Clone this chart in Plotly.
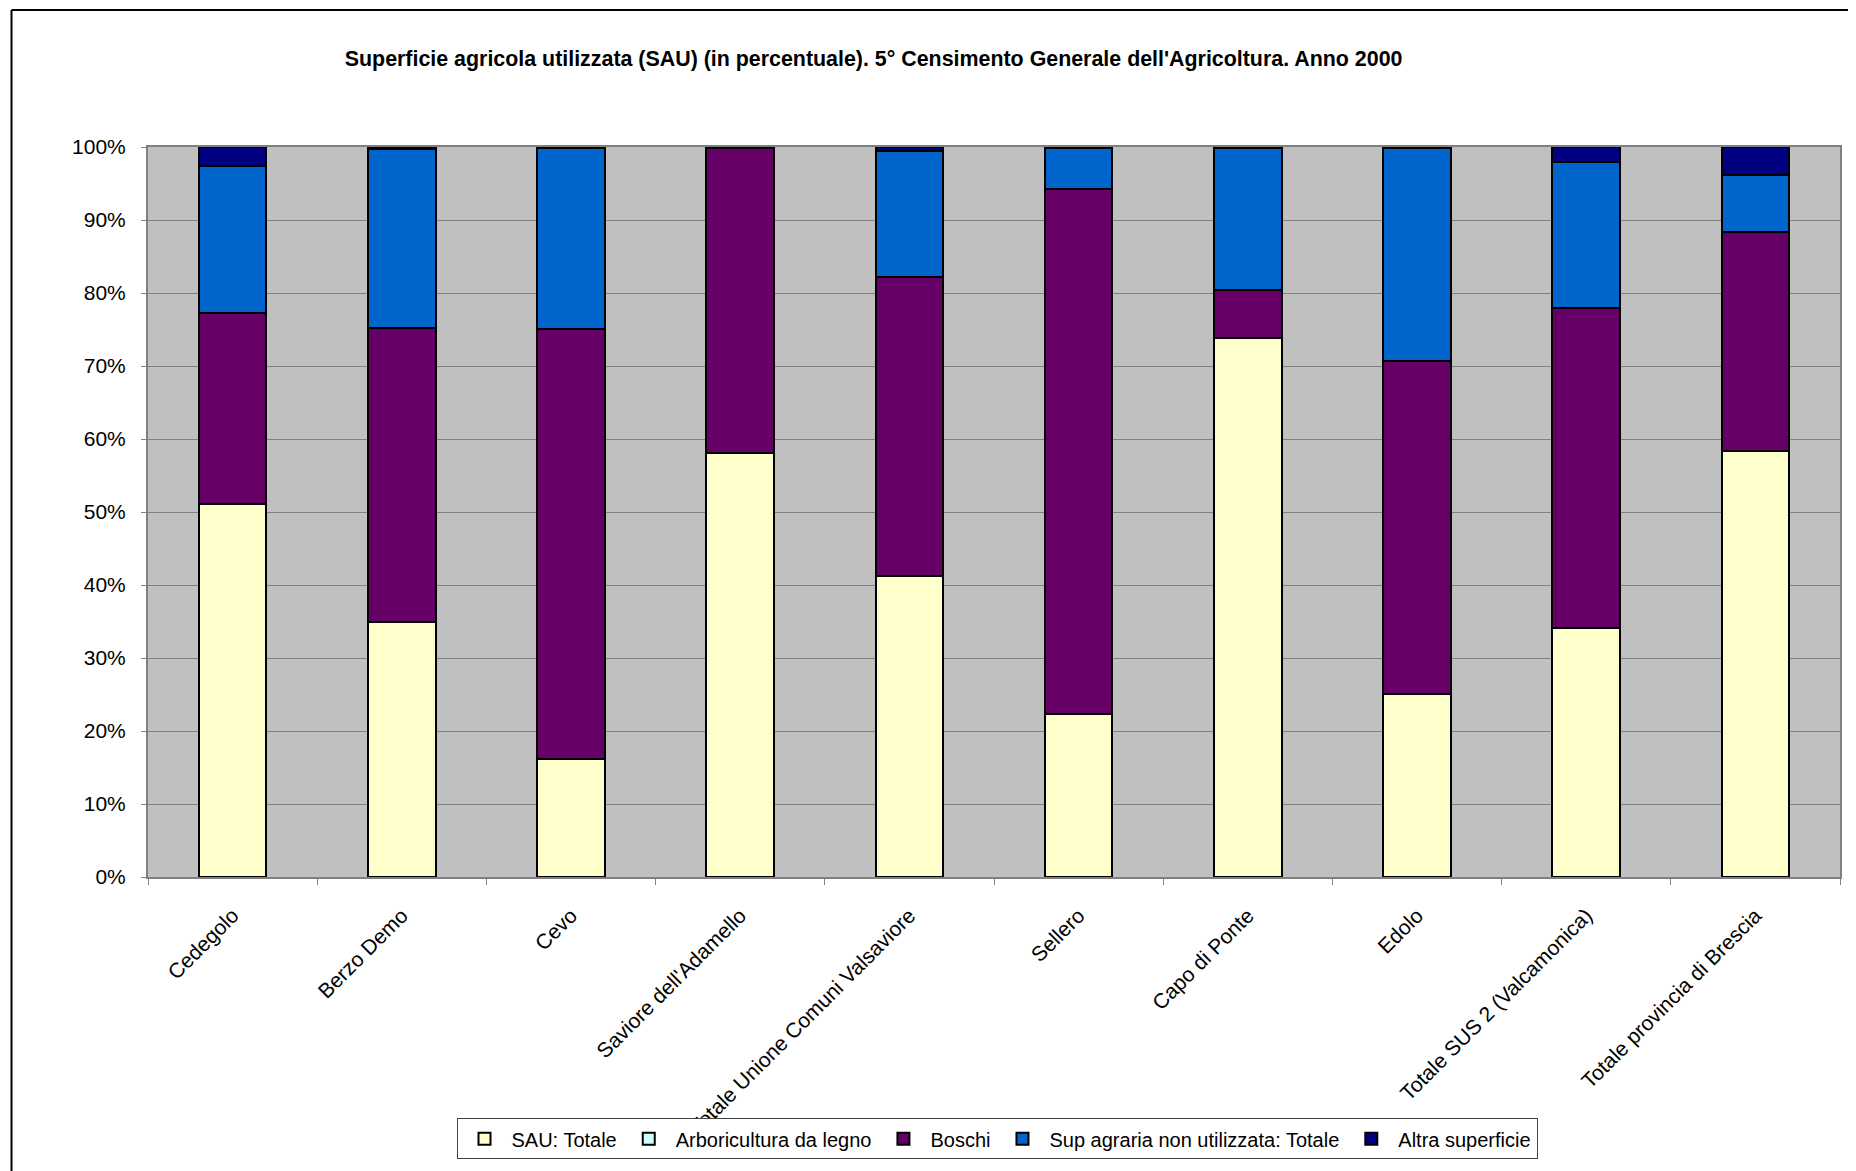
import plotly.graph_objects as go

categories = ["Cedegolo", "Berzo Demo", "Cevo", "Saviore dell'Adamello",
              "Totale Unione Comuni Valsaviore", "Sellero", "Capo di Ponte",
              "Edolo", "Totale SUS 2 (Valcamonica)", "Totale provincia di Brescia"]

sau_totale = [51.1, 35.0, 16.2, 58.1, 41.2, 22.3, 73.9, 25.1, 34.1, 58.3]
arboricoltura = [0.0, 0.0, 0.0, 0.0, 0.0, 0.0, 0.0, 0.0, 0.0, 0.1]
boschi = [26.1, 40.2, 58.9, 41.8, 41.0, 71.9, 6.5, 45.6, 43.9, 29.9]
sup_non_utilizzata = [20.2, 24.5, 24.7, 0.0, 17.2, 5.6, 19.4, 29.2, 19.9, 7.8]
altra_superficie = [2.6, 0.3, 0.2, 0.1, 0.6, 0.2, 0.2, 0.1, 2.1, 3.9]

series_names = ["SAU: Totale", "Arboricultura da legno", "Boschi",
                "Sup agraria non utilizzata: Totale", "Altra superficie"]
series_values = [sau_totale, arboricoltura, boschi, sup_non_utilizzata, altra_superficie]
series_colors = ["#FFFFCC", "#CCFFFF", "#660066", "#0066CC", "#000080"]

title_text = "Superficie agricola utilizzata (SAU) (in percentuale). 5° Censimento Generale dell'Agricoltura. Anno 2000"

FONT = "Arial, 'Liberation Sans', sans-serif"

fig = go.Figure()
for name, vals, col in zip(series_names, series_values, series_colors):
    fig.add_trace(go.Bar(
        x=categories, y=vals, name=name,
        marker=dict(color=col, line=dict(color="black", width=2)),
    ))

# page has an 8px body margin; figure coordinates below are page - 8
OFF = 8
W, H = 1856 - OFF, 1171 - OFF
L, R, T = 148 - OFF, 16, 147 - OFF
pw = W - L - R
ph = 732
B = H - T - ph

def px_x(px):
    return (px - OFF - L) / pw

def px_y(py):
    return (T + ph - (py - OFF)) / ph

fig.update_layout(
    width=W, height=H,
    margin=dict(l=L, r=R, t=T, b=B),
    barmode="stack",
    bargap=0.6,
    paper_bgcolor="white",
    plot_bgcolor="#C0C0C0",
    font=dict(family=FONT, size=21, color="black"),
    title=dict(text="<b>" + title_text + "</b>", xref="container",
               x=(873.6 - OFF) / W, xanchor="center",
               y=1 - (59 - OFF) / H, yanchor="middle",
               font=dict(size=21.4, family=FONT)),
    showlegend=True,
    legend=dict(
        orientation="h", traceorder="normal",
        x=px_x(997), xanchor="center",
        y=px_y(1121), yanchor="top",
        bgcolor="white", bordercolor="#404040", borderwidth=1,
        font=dict(size=20, family=FONT),
        itemwidth=44,
    ),
    xaxis=dict(
        type="category", tickangle=-45, tickson="boundaries",
        ticks="outside", ticklen=6, tickcolor="#808080",
        ticklabelstandoff=16,
        showline=True, linecolor="#808080", linewidth=2, mirror=True,
        showgrid=False, tickfont=dict(size=21, family=FONT),
    ),
    yaxis=dict(
        range=[0, 100], dtick=10, ticksuffix="%",
        ticks="outside", ticklen=5, tickcolor="#808080",
        ticklabelstandoff=11,
        showline=True, linecolor="#808080", linewidth=2, mirror=True,
        showgrid=True, gridcolor="#808080", gridwidth=1,
        tickfont=dict(size=21, family=FONT), zeroline=False,
    ),
    shapes=[
        dict(type="line", xref="paper", yref="paper",
             x0=px_x(11.5), x1=px_x(11.5), y0=px_y(9.5), y1=px_y(1171 + 20),
             line=dict(color="black", width=2)),
        dict(type="line", xref="paper", yref="paper",
             x0=px_x(11.5), x1=px_x(1856 + 20), y0=px_y(9.5), y1=px_y(9.5),
             line=dict(color="black", width=2)),
    ],
)

fig.write_html("out.html")
